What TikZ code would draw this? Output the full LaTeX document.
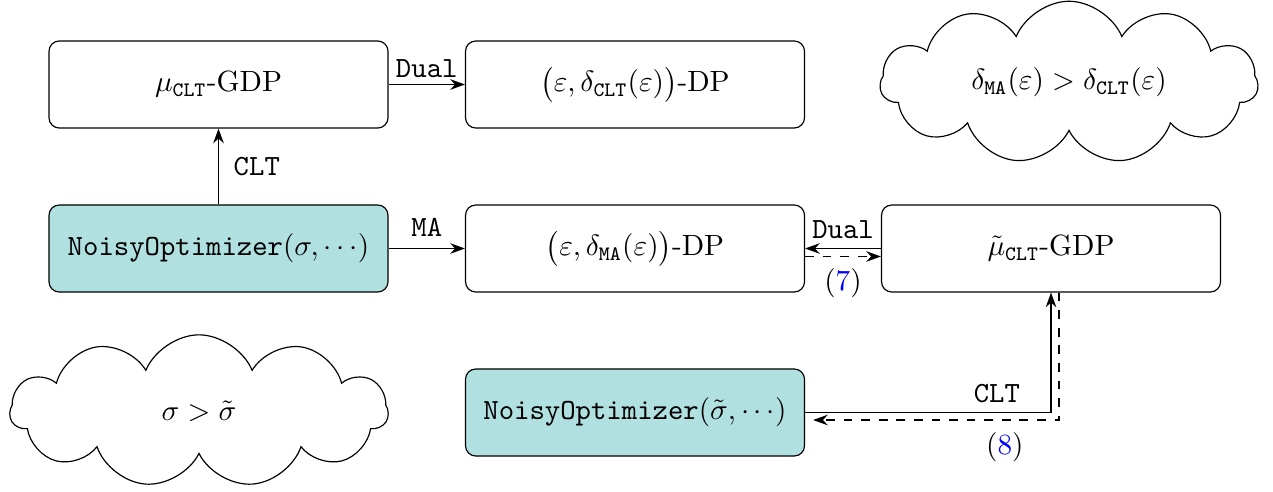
\documentclass[tikz,border=0pt]{standalone}
\usetikzlibrary{arrows.meta,shapes.symbols}
\definecolor{boxteal}{RGB}{176,224,224}
\begin{document}
\begin{tikzpicture}[x=0.3413pt,y=-0.3413pt,
  box/.style={draw,rounded corners=3.5pt,minimum width=115.7pt,minimum height=29.7pt,inner sep=2pt},
  tealbox/.style={box,fill=boxteal},
  arr/.style={-{Stealth[length=5pt,width=3.6pt]}},
  dasharr/.style={arr,dash pattern=on 3pt off 3pt},
  puff/.style={cloud,draw,cloud puffs=11,cloud puff arc=135,aspect=2.4,minimum width=129pt,minimum height=52pt,inner sep=0pt}]
\useasboundingbox (0,0) rectangle (1273,491);
\node[box] (A) at (218.5,84.5) {$\mu_{\mathtt{CLT}}$-GDP};
\node[box] (B) at (635,84.5) {$\bigl(\varepsilon,\delta_{\mathtt{CLT}}(\varepsilon)\bigr)$-DP};
\node[tealbox] (C) at (218.5,248.5) {\texttt{NoisyOptimizer}$(\sigma,\cdots)$};
\node[box] (D) at (635,248.5) {$\bigl(\varepsilon,\delta_{\mathtt{MA}}(\varepsilon)\bigr)$-DP};
\node[box] (E) at (1051,248.5) {$\tilde\mu_{\mathtt{CLT}}$-GDP};
\node[tealbox] (F) at (635,412.5) {\texttt{NoisyOptimizer}$(\tilde\sigma,\cdots)$};
\node[puff] (K1) at (199,411) {$\sigma>\tilde\sigma$};
\node[puff] (K2) at (1069,82.5) {$\delta_{\mathtt{MA}}(\varepsilon)>\delta_{\mathtt{CLT}}(\varepsilon)$};
\draw[arr] (A.east) -- node[above,inner sep=2pt]{\texttt{Dual}} (B.west);
\draw[arr] (C.north) -- node[right,inner sep=5pt]{\texttt{CLT}} (A.south);
\draw[arr] (C.east) -- node[above,inner sep=4pt]{\texttt{MA}} (D.west);
\draw[arr] (E.west) -- node[above,inner sep=3pt]{\texttt{Dual}} (D.east);
\draw[dasharr] ([yshift=-2.73pt]D.east) -- node[below,inner sep=4pt]{(\textcolor{blue}{7})} ([yshift=-2.73pt]E.west);
\draw[arr] (F.east) -| node[pos=0.39,above,inner sep=3pt]{\texttt{CLT}} (E.south);
\draw[dasharr] ([xshift=2.73pt]E.south) |- node[pos=0.61,below,inner sep=4pt]{(\textcolor{blue}{8})} ([xshift=2.73pt,yshift=-2.56pt]F.east);
\end{tikzpicture}
\end{document}
